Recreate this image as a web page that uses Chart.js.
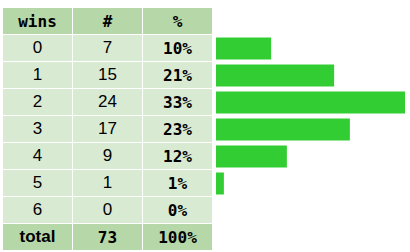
<!DOCTYPE html>
<html>
<head>
<meta charset="utf-8">
<script src="https://cdn.jsdelivr.net/npm/chart.js@4"></script>
<style>
  html, body { margin: 0; padding: 0; background: #fff; width: 410px; height: 252px; overflow: hidden; }
  #tbl { position: absolute; left: 3px; top: 8px; display: grid;
         grid-template-columns: 69px 69px 69px; grid-auto-rows: 26px; gap: 1px; }
  .c { display: flex; align-items: center; justify-content: center; color: #000;
       font-family: "Liberation Sans", Arial, sans-serif; font-size: 17px; background: #d9ead3; }
  .h { background: #b6d7a8; }
  .m { font-family: "DejaVu Sans Mono", monospace; font-weight: bold; font-size: 16px; }
  .b { font-weight: bold; }
  #wrap { position: absolute; left: 216px; top: 35px; width: 189px; height: 189px; }
</style>
</head>
<body>
<div id="tbl"></div>
<div id="wrap"><canvas id="c"></canvas></div>
<script>
const headers = ["wins", "#", "%"];
const wins = ["0", "1", "2", "3", "4", "5", "6"];
const counts = [7, 15, 24, 17, 9, 1, 0];
const percents = ["10%", "21%", "33%", "23%", "12%", "1%", "0%"];
const totalLabel = "total";
const totalCount = 73;
const totalPercent = "100%";

const tbl = document.getElementById('tbl');
function cell(text, cls) {
  const d = document.createElement('div');
  d.className = 'c ' + cls;
  d.textContent = text;
  tbl.appendChild(d);
}
headers.forEach(h => cell(h, 'h m'));
wins.forEach((w, i) => {
  cell(w, '');
  cell(String(counts[i]), '');
  cell(percents[i], 'm');
});
cell(totalLabel, 'h b');
cell(String(totalCount), 'h m');
cell(totalPercent, 'h m');

new Chart(document.getElementById('c'), {
  type: 'bar',
  data: {
    labels: wins,
    datasets: [{
      data: counts,
      backgroundColor: '#32cd32',
      borderWidth: 0,
      barPercentage: 22 / 27,
      categoryPercentage: 1
    }]
  },
  options: {
    indexAxis: 'y',
    responsive: true,
    maintainAspectRatio: false,
    animation: false,
    layout: { padding: 0 },
    plugins: { legend: { display: false }, tooltip: { enabled: false } },
    scales: {
      x: { display: false, min: 0, max: 24 },
      y: { display: false }
    }
  }
});
</script>
</body>
</html>
